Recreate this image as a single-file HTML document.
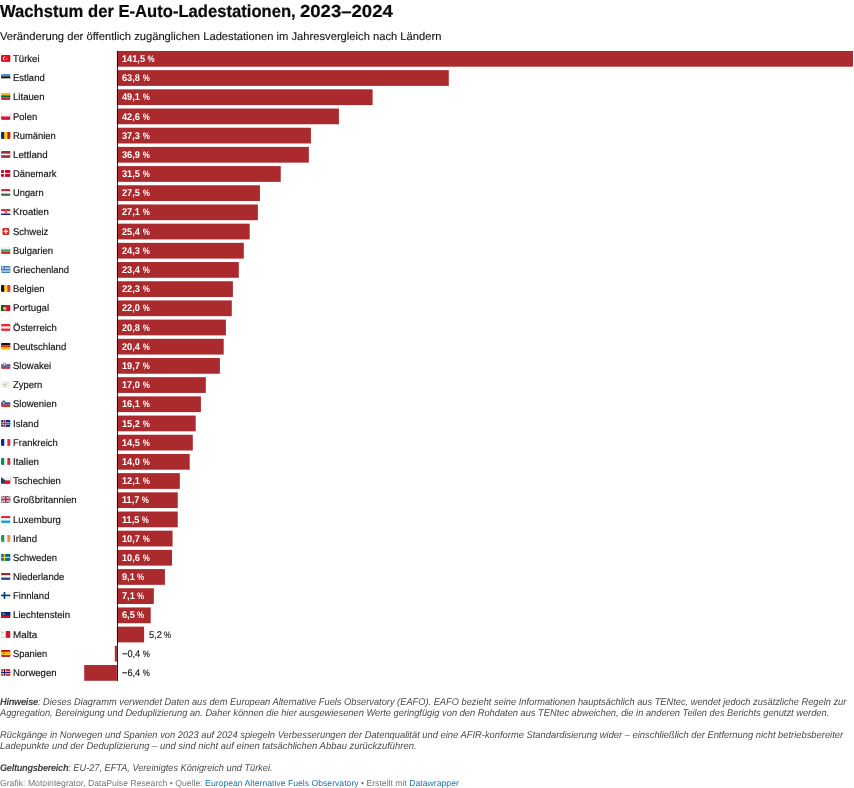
<!DOCTYPE html>
<html lang="de">
<head>
<meta charset="utf-8">
<title>Wachstum der E-Auto-Ladestationen, 2023–2024</title>
<style>
html,body{margin:0;padding:0;background:#fff;}
body{width:854px;height:788px;position:relative;overflow:hidden;font-family:"Liberation Sans",sans-serif;color:#222;text-rendering:geometricPrecision;}
h1{position:absolute;left:0;top:0.9px;margin:0;font-size:17.4px;line-height:20px;font-weight:bold;color:#0a0a0a;white-space:nowrap;-webkit-text-stroke:0.22px #0a0a0a;}
h1 span{display:inline-block;transform-origin:0 50%;}
h1 .a{transform:scaleX(.9554);}
h1 .b{position:absolute;left:300.1px;top:0;transform:scaleX(1.066);}
.sub{position:absolute;left:0;top:29.8px;margin:0;font-size:11.2px;line-height:14px;color:#151515;white-space:nowrap;-webkit-text-stroke:0.12px #151515;}
.fl{position:absolute;left:1px;width:9.6px;height:6.9px;}
.name{position:absolute;left:12.6px;height:16px;line-height:16px;font-size:9.8px;color:#111;white-space:nowrap;transform:scaleX(.967);transform-origin:0 50%;-webkit-text-stroke:0.15px #111;}
.bars{position:absolute;left:0;top:0;}
.val{position:absolute;height:16px;line-height:16px;font-size:9.8px;white-space:nowrap;transform:scaleX(.94);transform-origin:0 50%;}
.val i{font-style:normal;font-size:.96em;line-height:0;display:inline-block;transform:scaleX(.9);transform-origin:0 50%;}
.val.in{color:#fff;font-weight:bold;}
.val.out{color:#111;-webkit-text-stroke:0.15px #111;}
.note{position:absolute;left:0;margin:0;font-size:9.8px;line-height:11px;font-style:italic;color:#4a4a4a;white-space:nowrap;transform:scaleX(.948);transform-origin:0 50%;}
.note b{color:#3c3c3c;letter-spacing:-0.3px;}
.foot{position:absolute;left:0;top:776.7px;margin:0;font-size:8.66px;line-height:12px;color:#777;white-space:nowrap;}
.foot a{color:#1a76b0;text-decoration:none;}
</style>
</head>
<body>
<svg width="0" height="0" style="position:absolute"><defs><clipPath id="rc"><rect x="0" y="5" width="36" height="26" rx="4"/></clipPath></defs></svg>
<h1><span class="a">Wachstum der E-Auto-Ladestationen,</span> <span class="b">2023–2024</span></h1>
<p class="sub">Veränderung der öffentlich zugänglichen Ladestationen im Jahresvergleich nach Ländern</p>
<div class="chart">
<svg class="bars" width="854" height="788" viewBox="0 0 854 788"><g fill="#aa2a2e"><rect x="116.88" y="50.95" width="736.14" height="15.75"/><rect x="116.88" y="70.14" width="331.91" height="15.75"/><rect x="116.88" y="89.33" width="255.72" height="15.75"/><rect x="116.88" y="108.52" width="222.02" height="15.75"/><rect x="116.88" y="127.71" width="194.05" height="15.75"/><rect x="116.88" y="146.90" width="191.97" height="15.75"/><rect x="116.88" y="166.09" width="163.88" height="15.75"/><rect x="116.88" y="185.28" width="143.07" height="15.75"/><rect x="116.88" y="204.47" width="140.99" height="15.75"/><rect x="116.88" y="223.66" width="132.82" height="15.75"/><rect x="116.88" y="242.85" width="126.92" height="15.75"/><rect x="116.88" y="262.04" width="121.92" height="15.75"/><rect x="116.88" y="281.23" width="116.01" height="15.75"/><rect x="116.88" y="300.42" width="114.92" height="15.75"/><rect x="116.88" y="319.61" width="109.02" height="15.75"/><rect x="116.88" y="338.80" width="106.82" height="15.75"/><rect x="116.88" y="357.99" width="103.02" height="15.75"/><rect x="116.88" y="377.18" width="88.92" height="15.75"/><rect x="116.88" y="396.37" width="84.02" height="15.75"/><rect x="116.88" y="415.56" width="78.82" height="15.75"/><rect x="116.88" y="434.75" width="75.92" height="15.75"/><rect x="116.88" y="453.94" width="72.83" height="15.75"/><rect x="116.88" y="473.13" width="62.95" height="15.75"/><rect x="116.88" y="492.32" width="60.87" height="15.75"/><rect x="116.88" y="511.51" width="60.87" height="15.75"/><rect x="116.88" y="530.70" width="55.67" height="15.75"/><rect x="116.88" y="549.89" width="55.15" height="15.75"/><rect x="116.88" y="569.08" width="48.02" height="15.75"/><rect x="116.88" y="588.27" width="36.94" height="15.75"/><rect x="116.88" y="607.46" width="33.82" height="15.75"/><rect x="116.88" y="626.65" width="27.22" height="15.75"/><rect x="114.80" y="645.84" width="2.08" height="15.75"/><rect x="84.21" y="665.03" width="32.67" height="15.75"/></g><rect x="117.05" y="50.95" width="0.95" height="630.13" fill="#151515"/></svg>
<div class="row"><svg class="fl" viewBox="0 5 36 26" style="top:55.05px"><g clip-path="url(#rc)"><rect y="5" width="36" height="26" fill="#E30917"/><circle cx="14" cy="18" r="7" fill="#fff"/><circle cx="16" cy="18" r="5.6" fill="#E30917"/><path d="M19.5 18l5.2-1.7-3.2 4.4v-5.4l3.2 4.4z" fill="#fff"/></g></svg><div class="name" style="top:51.95px;transform:scaleX(0.9735)">Türkei</div><div class="val in" style="left:121.98px;top:51.95px">141,5 <i>%</i></div></div>
<div class="row"><svg class="fl" viewBox="0 5 36 26" style="top:74.24px"><g clip-path="url(#rc)"><rect y="5" width="36" height="8.7" fill="#4891D9"/><rect y="13.7" width="36" height="8.6" fill="#141414"/><rect y="22.3" width="36" height="8.7" fill="#FFFFFF"/></g></svg><div class="name" style="top:71.14px;transform:scaleX(0.9714)">Estland</div><div class="val in" style="left:121.98px;top:71.14px">63,8 <i>%</i></div></div>
<div class="row"><svg class="fl" viewBox="0 5 36 26" style="top:93.43px"><g clip-path="url(#rc)"><rect y="5" width="36" height="8.7" fill="#FDB913"/><rect y="13.7" width="36" height="8.6" fill="#006A44"/><rect y="22.3" width="36" height="8.7" fill="#C1272D"/></g></svg><div class="name" style="top:90.33px;transform:scaleX(0.9790)">Litauen</div><div class="val in" style="left:121.98px;top:90.33px">49,1 <i>%</i></div></div>
<div class="row"><svg class="fl" viewBox="0 5 36 26" style="top:112.62px"><g clip-path="url(#rc)"><rect y="5" width="36" height="26" fill="#DC143C"/><rect y="5" width="36" height="13" fill="#F4F4F4"/></g></svg><div class="name" style="top:109.52px;transform:scaleX(0.9657)">Polen</div><div class="val in" style="left:121.98px;top:109.52px">42,6 <i>%</i></div></div>
<div class="row"><svg class="fl" viewBox="0 5 36 26" style="top:131.81px"><g clip-path="url(#rc)"><rect y="5" width="36" height="26" fill="#FCD116"/><rect y="5" width="12" height="26" fill="#002B7F"/><rect x="24" y="5" width="12" height="26" fill="#CE1126"/></g></svg><div class="name" style="top:128.71px;transform:scaleX(0.9577)">Rumänien</div><div class="val in" style="left:121.98px;top:128.71px">37,3 <i>%</i></div></div>
<div class="row"><svg class="fl" viewBox="0 5 36 26" style="top:151.00px"><g clip-path="url(#rc)"><rect y="5" width="36" height="26" fill="#9E3039"/><rect y="15" width="36" height="6" fill="#F4F4F4"/></g></svg><div class="name" style="top:147.90px;transform:scaleX(0.9958)">Lettland</div><div class="val in" style="left:121.98px;top:147.90px">36,9 <i>%</i></div></div>
<div class="row"><svg class="fl" viewBox="0 5 36 26" style="top:170.19px"><g clip-path="url(#rc)"><rect y="5" width="36" height="26" fill="#C60C30"/><rect x="11.0" y="5" width="4" height="26" fill="#F4F4F4"/><rect y="16.0" width="36" height="4" fill="#F4F4F4"/></g></svg><div class="name" style="top:167.09px;transform:scaleX(0.9640)">Dänemark</div><div class="val in" style="left:121.98px;top:167.09px">31,5 <i>%</i></div></div>
<div class="row"><svg class="fl" viewBox="0 5 36 26" style="top:189.38px"><g clip-path="url(#rc)"><rect y="5" width="36" height="8.7" fill="#CD2A3E"/><rect y="13.7" width="36" height="8.6" fill="#F4F4F4"/><rect y="22.3" width="36" height="8.7" fill="#436F4D"/></g></svg><div class="name" style="top:186.28px;transform:scaleX(0.9528)">Ungarn</div><div class="val in" style="left:121.98px;top:186.28px">27,5 <i>%</i></div></div>
<div class="row"><svg class="fl" viewBox="0 5 36 26" style="top:208.57px"><g clip-path="url(#rc)"><rect y="5" width="36" height="8.7" fill="#EC1C24"/><rect y="13.7" width="36" height="8.6" fill="#F4F4F4"/><rect y="22.3" width="36" height="8.7" fill="#171796"/><rect x="14" y="11" width="8" height="11" fill="#EC1C24"/><rect x="14" y="8" width="8" height="3" fill="#5C9FD6"/><rect x="16" y="13" width="2" height="2" fill="#fff"/><rect x="18" y="15" width="2" height="2" fill="#fff"/><rect x="16" y="17" width="2" height="2" fill="#fff"/></g></svg><div class="name" style="top:205.47px;transform:scaleX(0.9795)">Kroatien</div><div class="val in" style="left:121.98px;top:205.47px">27,1 <i>%</i></div></div>
<div class="row"><svg class="fl" viewBox="0 5 36 26" style="top:227.76px"><rect x="5" y="5" width="26" height="26" rx="4" fill="#D32D27"/><rect x="15.5" y="10" width="5" height="16" fill="#fff"/><rect x="10" y="15.5" width="16" height="5" fill="#fff"/></svg><div class="name" style="top:224.66px;transform:scaleX(0.9683)">Schweiz</div><div class="val in" style="left:121.98px;top:224.66px">25,4 <i>%</i></div></div>
<div class="row"><svg class="fl" viewBox="0 5 36 26" style="top:246.95px"><g clip-path="url(#rc)"><rect y="5" width="36" height="8.7" fill="#F4F4F4"/><rect y="13.7" width="36" height="8.6" fill="#4D9C6A"/><rect y="22.3" width="36" height="8.7" fill="#D62612"/></g></svg><div class="name" style="top:243.85px;transform:scaleX(0.9685)">Bulgarien</div><div class="val in" style="left:121.98px;top:243.85px">24,3 <i>%</i></div></div>
<div class="row"><svg class="fl" viewBox="0 5 36 26" style="top:266.14px"><g clip-path="url(#rc)"><rect y="5" width="36" height="26" fill="#0D5EAF"/><rect y="7.9" width="36" height="2.9" fill="#F4F4F4"/><rect y="13.7" width="36" height="2.9" fill="#F4F4F4"/><rect y="19.4" width="36" height="2.9" fill="#F4F4F4"/><rect y="25.2" width="36" height="2.9" fill="#F4F4F4"/><rect y="5" width="14.4" height="14.4" fill="#0D5EAF"/><rect x="5.8" y="5" width="2.9" height="14.4" fill="#F4F4F4"/><rect y="10.8" width="14.4" height="2.9" fill="#F4F4F4"/></g></svg><div class="name" style="top:263.04px;transform:scaleX(0.9619)">Griechenland</div><div class="val in" style="left:121.98px;top:263.04px">23,4 <i>%</i></div></div>
<div class="row"><svg class="fl" viewBox="0 5 36 26" style="top:285.33px"><g clip-path="url(#rc)"><rect y="5" width="36" height="26" fill="#FDDA24"/><rect y="5" width="12" height="26" fill="#141414"/><rect x="24" y="5" width="12" height="26" fill="#EF3340"/></g></svg><div class="name" style="top:282.23px;transform:scaleX(0.9617)">Belgien</div><div class="val in" style="left:121.98px;top:282.23px">22,3 <i>%</i></div></div>
<div class="row"><svg class="fl" viewBox="0 5 36 26" style="top:304.52px"><g clip-path="url(#rc)"><rect y="5" width="36" height="26" fill="#D21034"/><rect y="5" width="14" height="26" fill="#060"/><circle cx="14" cy="18" r="6.5" fill="#FFCC4D"/><rect x="11.5" y="15" width="5" height="6" rx="1.5" fill="#D21034"/><rect x="12.7" y="16.2" width="2.6" height="3.6" rx="1" fill="#fff"/></g></svg><div class="name" style="top:301.42px;transform:scaleX(0.9886)">Portugal</div><div class="val in" style="left:121.98px;top:301.42px">22,0 <i>%</i></div></div>
<div class="row"><svg class="fl" viewBox="0 5 36 26" style="top:323.71px"><g clip-path="url(#rc)"><rect y="5" width="36" height="26" fill="#ED2939"/><rect y="13.7" width="36" height="8.6" fill="#F4F4F4"/></g></svg><div class="name" style="top:320.61px;transform:scaleX(0.9718)">Österreich</div><div class="val in" style="left:121.98px;top:320.61px">20,8 <i>%</i></div></div>
<div class="row"><svg class="fl" viewBox="0 5 36 26" style="top:342.90px"><g clip-path="url(#rc)"><rect y="5" width="36" height="8.7" fill="#141414"/><rect y="13.7" width="36" height="8.6" fill="#ED1F24"/><rect y="22.3" width="36" height="8.7" fill="#FFCD05"/></g></svg><div class="name" style="top:339.80px;transform:scaleX(0.9774)">Deutschland</div><div class="val in" style="left:121.98px;top:339.80px">20,4 <i>%</i></div></div>
<div class="row"><svg class="fl" viewBox="0 5 36 26" style="top:362.09px"><g clip-path="url(#rc)"><rect y="5" width="36" height="8.7" fill="#F4F4F4"/><rect y="13.7" width="36" height="8.6" fill="#1E55A5"/><rect y="22.3" width="36" height="8.7" fill="#C9303C"/><path d="M7 10h12v9c0 4-3 6.500-6 8-3-1.500-6-4-6-8z" fill="#D0303C" stroke="#fff" stroke-width="1.200"/><rect x="12" y="12" width="2" height="10" fill="#fff"/><rect x="9.500" y="14.500" width="7" height="2" fill="#fff"/><path d="M8.500 22c1-2 3-2 4.500-.500 1.500-1.500 3.500-1.500 4.500.500-1 2-3 3.500-4.500 4-1.500-.500-3.500-2-4.500-4z" fill="#0B4EA2"/></g></svg><div class="name" style="top:358.99px;transform:scaleX(0.9727)">Slowakei</div><div class="val in" style="left:121.98px;top:358.99px">19,7 <i>%</i></div></div>
<div class="row"><svg class="fl" viewBox="0 5 36 26" style="top:381.28px"><g clip-path="url(#rc)"><rect y="5" width="36" height="26" fill="#F1F0EA"/><path d="M9 19c0-2 3-3 6-3.500 2-.500 5-2.500 8-4 .500 0 1 .300.500 1-1.500 1.500-3.500 2.500-4 4 .500 1.500 1.500 2 1 3-1.500.500-3.500 0-5 .800-1.500.800-2.500 2.200-4 1.700-1.500-.500-2.500-1.500-2.500-3z" fill="#A89A78" opacity=".65"/><path d="M12 25.500c2 1.500 4 2 6 2s4-.500 6-2c-2 .700-4 1-6 1s-4-.300-6-1z" fill="#4E5B31" opacity=".6"/></g></svg><div class="name" style="top:378.18px;transform:scaleX(0.9593)">Zypern</div><div class="val in" style="left:121.98px;top:378.18px">17,0 <i>%</i></div></div>
<div class="row"><svg class="fl" viewBox="0 5 36 26" style="top:400.47px"><g clip-path="url(#rc)"><rect y="5" width="36" height="8.7" fill="#F4F4F4"/><rect y="13.7" width="36" height="8.6" fill="#005DA4"/><rect y="22.3" width="36" height="8.7" fill="#ED1C23"/><path d="M6 8h9v7c0 3-2.500 5-4.500 6-2-1-4.500-3-4.500-6z" fill="#005DA4" stroke="#ED1C23" stroke-width=".8"/><path d="M7 16l3.500-4.500 3.500 4.500c-1 2-2.500 3-3.500 3.500-1-.500-2.500-1.500-3.500-3.500z" fill="#fff"/></g></svg><div class="name" style="top:397.37px;transform:scaleX(0.9671)">Slowenien</div><div class="val in" style="left:121.98px;top:397.37px">16,1 <i>%</i></div></div>
<div class="row"><svg class="fl" viewBox="0 5 36 26" style="top:419.66px"><g clip-path="url(#rc)"><rect y="5" width="36" height="26" fill="#003897"/><rect x="9.0" y="5" width="8" height="26" fill="#F4F4F4"/><rect y="14.0" width="36" height="8" fill="#F4F4F4"/><rect x="11.0" y="5" width="4" height="26" fill="#D72828"/><rect y="16.0" width="36" height="4" fill="#D72828"/></g></svg><div class="name" style="top:416.56px;transform:scaleX(0.9859)">Island</div><div class="val in" style="left:121.98px;top:416.56px">15,2 <i>%</i></div></div>
<div class="row"><svg class="fl" viewBox="0 5 36 26" style="top:438.85px"><g clip-path="url(#rc)"><rect y="5" width="36" height="26" fill="#F4F4F4"/><rect y="5" width="12" height="26" fill="#002495"/><rect x="24" y="5" width="12" height="26" fill="#ED2939"/></g></svg><div class="name" style="top:435.75px;transform:scaleX(0.9687)">Frankreich</div><div class="val in" style="left:121.98px;top:435.75px">14,5 <i>%</i></div></div>
<div class="row"><svg class="fl" viewBox="0 5 36 26" style="top:458.04px"><g clip-path="url(#rc)"><rect y="5" width="36" height="26" fill="#F4F4F4"/><rect y="5" width="12" height="26" fill="#009246"/><rect x="24" y="5" width="12" height="26" fill="#CE2B37"/></g></svg><div class="name" style="top:454.94px;transform:scaleX(0.9930)">Italien</div><div class="val in" style="left:121.98px;top:454.94px">14,0 <i>%</i></div></div>
<div class="row"><svg class="fl" viewBox="0 5 36 26" style="top:477.23px"><g clip-path="url(#rc)"><rect y="5" width="36" height="26" fill="#D7141A"/><rect y="5" width="36" height="13" fill="#F4F4F4"/><path d="M0 5l17 13-17 13z" fill="#11457E"/></g></svg><div class="name" style="top:474.13px;transform:scaleX(0.9782)">Tschechien</div><div class="val in" style="left:121.98px;top:474.13px">12,1 <i>%</i></div></div>
<div class="row"><svg class="fl" viewBox="0 5 36 26" style="top:496.42px"><g clip-path="url(#rc)"><rect y="5" width="36" height="26" fill="#00247D"/><path d="M0 5l36 26M36 5l-36 26" stroke="#F4F4F4" stroke-width="7"/><path d="M0 5l36 26M36 5l-36 26" stroke="#CF1B2B" stroke-width="2.600"/><rect x="13" y="5" width="10" height="26" fill="#F4F4F4"/><rect y="13" width="36" height="10" fill="#F4F4F4"/><rect x="15" y="5" width="6" height="26" fill="#CF1B2B"/><rect y="15" width="36" height="6" fill="#CF1B2B"/></g></svg><div class="name" style="top:493.32px;transform:scaleX(0.9714)">Großbritannien</div><div class="val in" style="left:121.98px;top:493.32px">11,7 <i>%</i></div></div>
<div class="row"><svg class="fl" viewBox="0 5 36 26" style="top:515.61px"><g clip-path="url(#rc)"><rect y="5" width="36" height="8.7" fill="#ED2939"/><rect y="13.7" width="36" height="8.6" fill="#F4F4F4"/><rect y="22.3" width="36" height="8.7" fill="#00A1DE"/></g></svg><div class="name" style="top:512.51px;transform:scaleX(0.9780)">Luxemburg</div><div class="val in" style="left:121.98px;top:512.51px">11,5 <i>%</i></div></div>
<div class="row"><svg class="fl" viewBox="0 5 36 26" style="top:534.80px"><g clip-path="url(#rc)"><rect y="5" width="36" height="26" fill="#F4F4F4"/><rect y="5" width="12" height="26" fill="#169B62"/><rect x="24" y="5" width="12" height="26" fill="#FF883E"/></g></svg><div class="name" style="top:531.70px;transform:scaleX(0.9824)">Irland</div><div class="val in" style="left:121.98px;top:531.70px">10,7 <i>%</i></div></div>
<div class="row"><svg class="fl" viewBox="0 5 36 26" style="top:553.99px"><g clip-path="url(#rc)"><rect y="5" width="36" height="26" fill="#006AA7"/><rect x="10.5" y="5" width="5" height="26" fill="#FECC00"/><rect y="15.5" width="36" height="5" fill="#FECC00"/></g></svg><div class="name" style="top:550.89px;transform:scaleX(0.9620)">Schweden</div><div class="val in" style="left:121.98px;top:550.89px">10,6 <i>%</i></div></div>
<div class="row"><svg class="fl" viewBox="0 5 36 26" style="top:573.18px"><g clip-path="url(#rc)"><rect y="5" width="36" height="8.7" fill="#AE1C28"/><rect y="13.7" width="36" height="8.6" fill="#F4F4F4"/><rect y="22.3" width="36" height="8.7" fill="#21468B"/></g></svg><div class="name" style="top:570.08px;transform:scaleX(0.9702)">Niederlande</div><div class="val in" style="left:121.98px;top:570.08px">9,1 <i>%</i></div></div>
<div class="row"><svg class="fl" viewBox="0 5 36 26" style="top:592.37px"><g clip-path="url(#rc)"><rect y="5" width="36" height="26" fill="#F6F6F6"/><rect x="10.0" y="5" width="6" height="26" fill="#003580"/><rect y="15.0" width="36" height="6" fill="#003580"/></g></svg><div class="name" style="top:589.27px;transform:scaleX(0.9692)">Finnland</div><div class="val in" style="left:121.98px;top:589.27px">7,1 <i>%</i></div></div>
<div class="row"><svg class="fl" viewBox="0 5 36 26" style="top:611.56px"><g clip-path="url(#rc)"><rect y="5" width="36" height="26" fill="#CE1126"/><rect y="5" width="36" height="13" fill="#002B7F"/><path d="M5 14l1-4 2 2 1.500-3 1.500 3 2-2 1 4z" fill="#FFD83D"/></g></svg><div class="name" style="top:608.46px;transform:scaleX(0.9890)">Liechtenstein</div><div class="val in" style="left:121.98px;top:608.46px">6,5 <i>%</i></div></div>
<div class="row"><svg class="fl" viewBox="0 5 36 26" style="top:630.75px"><g clip-path="url(#rc)"><rect y="5" width="36" height="26" fill="#CF142B"/><rect y="5" width="18" height="26" fill="#F4F4F4"/><rect x="3" y="8" width="5" height="5" fill="#A0A0A0" opacity=".8"/></g></svg><div class="name" style="top:627.65px;transform:scaleX(1.0120)">Malta</div><div class="val out" style="left:149.20px;top:627.65px">5,2 <i>%</i></div></div>
<div class="row"><svg class="fl" viewBox="0 5 36 26" style="top:649.94px"><g clip-path="url(#rc)"><rect y="5" width="36" height="26" fill="#C60A1D"/><rect y="11.500" width="36" height="13" fill="#FFC400"/><rect x="8" y="14" width="5" height="7" rx="1.500" fill="#AD1519" opacity=".8"/></g></svg><div class="name" style="top:646.84px;transform:scaleX(0.9525)">Spanien</div><div class="val out" style="left:121.98px;top:646.84px">−0,4 <i>%</i></div></div>
<div class="row"><svg class="fl" viewBox="0 5 36 26" style="top:669.13px"><g clip-path="url(#rc)"><rect y="5" width="36" height="26" fill="#EF2B2D"/><rect x="9.0" y="5" width="8" height="26" fill="#F4F4F4"/><rect y="14.0" width="36" height="8" fill="#F4F4F4"/><rect x="11.0" y="5" width="4" height="26" fill="#002868"/><rect y="16.0" width="36" height="4" fill="#002868"/></g></svg><div class="name" style="top:666.03px;transform:scaleX(0.9752)">Norwegen</div><div class="val out" style="left:121.98px;top:666.03px">−6,4 <i>%</i></div></div>

</div>
<p class="note" style="top:697.3px;transform:scaleX(.946)"><b>Hinweise</b>: Dieses Diagramm verwendet Daten aus dem European Alternative Fuels Observatory (EAFO). EAFO bezieht seine Informationen hauptsächlich aus TENtec, wendet jedoch zusätzliche Regeln zur</p>
<p class="note" style="top:708.3px;transform:scaleX(.9475)">Aggregation, Bereinigung und Deduplizierung an. Daher können die hier ausgewiesenen Werte geringfügig von den Rohdaten aus TENtec abweichen, die in anderen Teilen des Berichts genutzt werden.</p>
<p class="note" style="top:730.3px;transform:scaleX(.9546)">Rückgänge in Norwegen und Spanien von 2023 auf 2024 spiegeln Verbesserungen der Datenqualität und eine AFIR-konforme Standardisierung wider – einschließlich der Entfernung nicht betriebsbereiter</p>
<p class="note" style="top:741.3px;transform:scaleX(.963)">Ladepunkte und der Deduplizierung – und sind nicht auf einen tatsächlichen Abbau zurückzuführen.</p>
<p class="note" style="top:763.3px;transform:scaleX(.9376)"><b>Geltungsbereich</b>: EU-27, EFTA, Vereinigtes Königreich und Türkei.</p>
<p class="foot">Grafik: Motointegrator, DataPulse Research • Quelle: <a>European Alternative Fuels Observatory</a> • Erstellt mit <a>Datawrapper</a></p>
</body>
</html>
